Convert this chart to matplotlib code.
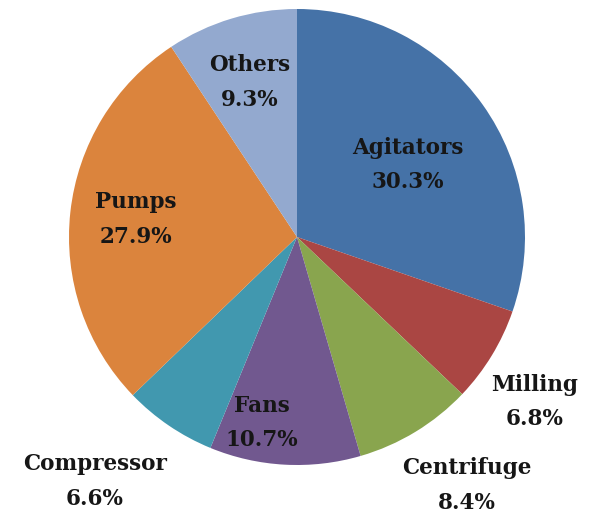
import numpy as np
import matplotlib
matplotlib.use("Agg")
import matplotlib.pyplot as plt

# Share of energy use by equipment type
categories = ["Agitators", "Milling", "Centrifuge", "Fans", "Compressor", "Pumps", "Others"]
shares = [30.3, 6.8, 8.4, 10.7, 6.6, 27.9, 9.3]
colors = ["#4572A7", "#AA4643", "#89A54E", "#71588F", "#4198AF", "#DB843D", "#93A9CF"]

# label placement: radial distance (fraction of radius) and angular nudge (deg)
label_dist = [0.58, 1.27, 1.32, 0.83, 1.39, 0.71, 0.71]
label_nudge = [-2.5, -3.4, 3.0, -7.6, -5.4, 0.0, 0.3]

W, H = 590, 516
fig = plt.figure(figsize=(W / 100, H / 100), dpi=100)
ax = fig.add_axes([0, 0, 1, 1])

cx, cy, R = 297, H - 237, 228
wedges, _ = ax.pie(shares, colors=colors, startangle=90, counterclock=False,
                   center=(cx, cy), radius=R, frame=True,
                   wedgeprops=dict(linewidth=0))
ax.set_xlim(0, W)
ax.set_ylim(0, H)
ax.set_aspect("equal")
ax.axis("off")

font = dict(family=["DejaVu Serif"], fontweight="bold", fontsize=15.5, color="#161616")
for w, name, val, d, nud in zip(wedges, categories, shares, label_dist, label_nudge):
    mid = np.deg2rad((w.theta1 + w.theta2) / 2 + nud)
    x = cx + R * d * np.cos(mid)
    y = cy + R * d * np.sin(mid)
    ax.text(x, y, f"{name}\n{val:.1f}%", ha="center", va="center",
            linespacing=1.75, **font)

fig.savefig("out.png", dpi=100)
